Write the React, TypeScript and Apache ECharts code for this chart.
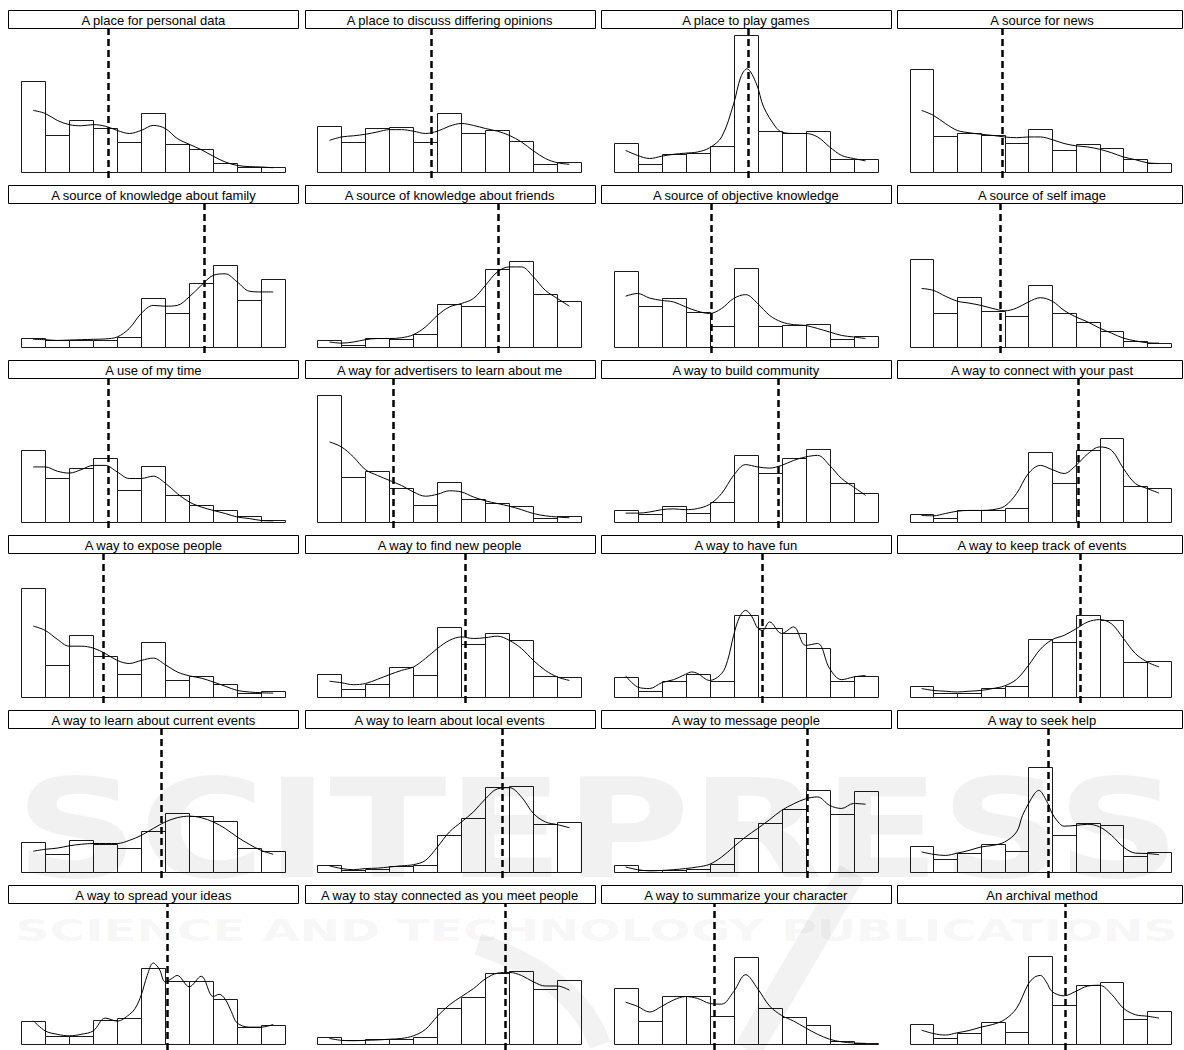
import React, { useEffect, useRef } from 'react';
import * as echarts from 'echarts';

// Panel titles
const titles: string[] = [
  'A place for personal data', 'A place to discuss differing opinions', 'A place to play games', 'A source for news',
  'A source of knowledge about family', 'A source of knowledge about friends', 'A source of objective knowledge', 'A source of self image',
  'A use of my time', 'A way for advertisers to learn about me', 'A way to build community', 'A way to connect with your past',
  'A way to expose people', 'A way to find new people', 'A way to have fun', 'A way to keep track of events',
  'A way to learn about current events', 'A way to learn about local events', 'A way to message people', 'A way to seek help',
  'A way to spread your ideas', 'A way to stay connected as you meet people', 'A way to summarize your character', 'An archival method',
];

// Ratings 0..10 (bins)
const ratings: number[] = [0, 1, 2, 3, 4, 5, 6, 7, 8, 9, 10];

// Histogram heights (percent of respondents per rating)
const bars: number[][] = [
  [23.6, 9.5, 13.4, 11.5, 7.8, 15.2, 7.4, 6.1, 2.3, 1.3, 1.3],
  [11.9, 7.8, 11.5, 11.7, 7.8, 15.4, 10.2, 11.0, 8.0, 2.2, 2.7],
  [7.5, 2.2, 4.8, 5.0, 6.7, 35.5, 10.6, 10.0, 10.6, 3.5, 3.3],
  [26.8, 9.3, 10.2, 9.5, 7.5, 11.1, 5.8, 7.4, 6.2, 3.5, 2.4],
  [2.3, 1.7, 1.9, 1.9, 2.6, 12.7, 8.9, 16.5, 21.2, 12.1, 17.6],
  [1.7, 0.6, 2.3, 2.0, 3.3, 11.1, 10.6, 20.2, 22.3, 13.7, 11.9],
  [19.7, 10.6, 12.6, 9.1, 5.5, 20.4, 5.5, 5.6, 6.1, 2.0, 2.9],
  [22.9, 8.7, 13.0, 9.3, 8.1, 16.2, 8.9, 6.5, 4.1, 1.5, 1.0],
  [18.6, 11.3, 14.1, 16.5, 8.4, 14.5, 6.9, 4.5, 3.0, 1.5, 0.4],
  [32.9, 11.7, 13.2, 8.9, 4.5, 10.4, 6.1, 4.9, 4.1, 1.1, 1.6],
  [3.2, 2.0, 4.1, 2.3, 5.2, 17.3, 12.6, 16.5, 19.0, 10.2, 7.5],
  [2.2, 1.0, 3.2, 3.0, 3.7, 18.2, 10.0, 18.7, 21.7, 9.3, 8.9],
  [28.3, 8.4, 16.0, 10.6, 6.1, 14.3, 4.5, 5.5, 3.5, 1.1, 1.5],
  [5.9, 2.2, 3.5, 7.8, 5.8, 18.2, 13.7, 16.7, 14.7, 5.5, 5.2],
  [5.2, 1.6, 4.1, 5.9, 4.1, 21.2, 18.0, 16.7, 12.7, 4.2, 5.5],
  [2.9, 1.0, 1.0, 2.4, 2.9, 15.0, 14.3, 21.2, 20.1, 9.1, 9.3],
  [7.8, 4.8, 8.2, 7.4, 6.3, 10.6, 15.4, 14.5, 13.2, 6.3, 5.4],
  [1.9, 0.4, 0.9, 1.6, 1.9, 9.7, 13.9, 22.0, 22.3, 12.4, 13.0],
  [1.7, 0.4, 0.6, 0.9, 2.2, 8.7, 12.6, 16.3, 21.2, 15.0, 21.0],
  [6.8, 3.5, 5.0, 7.4, 5.4, 27.3, 9.5, 12.8, 12.3, 4.1, 5.2],
  [6.1, 2.2, 2.2, 6.5, 6.9, 20.3, 16.6, 16.6, 11.9, 4.5, 5.0],
  [1.9, 1.0, 1.3, 1.3, 2.0, 9.7, 12.6, 18.8, 19.5, 14.5, 16.9],
  [14.9, 6.1, 12.8, 12.7, 7.4, 23.2, 9.6, 7.2, 5.1, 0.9, 0.2],
  [5.2, 1.5, 2.9, 5.9, 3.3, 23.4, 10.3, 15.7, 16.4, 6.6, 8.7],
];

// Positions at which the density curves were read (default: every half rating)
const HALF: number[] = [0, 0.5, 1, 1.5, 2, 2.5, 3, 3.5, 4, 4.5, 5, 5.5, 6, 6.5, 7, 7.5, 8, 8.5, 9, 9.5, 10];
const curveX: (number[] | null)[] = [
  null, null,
  [0, 0.5, 1, 1.5, 2, 2.5, 3, 3.5, 4, 4.5, 4.8, 5.05, 5.45, 5.75, 6.25, 6.5, 7, 7.5, 8, 8.5, 9, 9.5, 10],
  null, null, null, null, null, null, null, null, null, null, null,
  [0, 0.5, 1, 1.5, 2, 2.5, 2.75, 3, 3.5, 4, 4.25, 4.5, 4.75, 5, 5.25, 5.5, 5.7, 6, 6.5, 7, 7.5, 8, 8.5, 9, 9.5, 10],
  null, null, null, null,
  [0, 0.5, 1, 1.5, 2, 2.5, 3, 3.5, 4, 4.25, 4.5, 4.75, 4.93, 5.25, 5.5, 5.75, 6, 6.5, 7, 7.5, 8, 8.5, 9, 9.5, 10],
  [0, 0.5, 1, 1.5, 2, 2.5, 3, 3.5, 4, 4.25, 4.5, 4.75, 5, 5.25, 5.5, 5.75, 6, 6.5, 7, 7.5, 7.75, 8, 8.25, 8.5, 9, 9.5, 10],
  null, null,
  [0, 0.5, 1, 1.5, 2, 2.5, 3, 3.5, 4, 4.5, 4.75, 5, 5.25, 5.5, 6, 6.5, 7, 7.5, 8, 8.5, 9, 9.5, 10],
];

// Density curve values (percent scale)
const curveY: number[][] = [
  [16.0, 15.2, 13.4, 12.3, 12.0, 12.3, 11.9, 10.8, 10.0, 10.8, 12.1, 11.3, 8.7, 7.2, 5.8, 4.1, 2.6, 1.7, 1.4, 1.3, 1.1],
  [8.2, 9.1, 9.4, 9.8, 10.4, 11.0, 11.0, 10.6, 10.0, 10.6, 11.9, 12.6, 12.1, 11.3, 10.6, 9.5, 7.8, 5.5, 3.5, 2.4, 2.0],
  [5.6, 4.3, 3.5, 4.1, 4.6, 4.9, 5.2, 6.3, 9.1, 17.7, 24.7, 26.8, 22.9, 16.9, 11.7, 10.4, 10.0, 10.0, 9.1, 6.5, 4.3, 3.5, 2.9],
  [16.0, 14.7, 12.6, 10.8, 10.2, 9.8, 9.5, 9.1, 8.9, 9.1, 9.1, 8.4, 7.4, 6.8, 6.5, 5.9, 5.0, 3.9, 3.2, 2.4, 2.2],
  [2.0, 1.9, 1.7, 1.8, 1.9, 2.0, 2.1, 2.6, 4.8, 8.7, 10.8, 10.6, 10.8, 13.0, 16.0, 18.6, 19.0, 16.9, 14.5, 14.3, 14.3],
  [1.3, 1.0, 1.3, 1.9, 2.2, 2.2, 2.4, 3.2, 5.2, 8.2, 10.4, 11.3, 12.6, 16.0, 19.5, 20.8, 20.8, 18.2, 14.7, 12.6, 10.6],
  [13.2, 13.9, 12.7, 12.1, 11.7, 10.4, 9.3, 8.7, 10.0, 12.6, 13.6, 11.3, 8.2, 6.5, 5.8, 5.6, 4.8, 3.9, 3.0, 2.6, 2.2],
  [15.2, 14.7, 13.2, 11.9, 11.4, 10.8, 10.0, 9.4, 10.1, 11.7, 12.8, 11.9, 9.5, 7.8, 6.5, 4.9, 3.6, 2.3, 1.6, 1.1, 1.0],
  [14.3, 14.3, 13.2, 12.7, 13.6, 14.7, 14.7, 13.0, 11.3, 11.3, 11.9, 10.1, 7.4, 5.2, 3.9, 3.0, 2.2, 1.3, 0.9, 0.4, 0.3],
  [20.8, 19.5, 16.9, 13.6, 12.1, 10.8, 9.5, 7.8, 6.7, 7.2, 8.1, 7.8, 6.5, 5.5, 4.8, 4.1, 3.2, 2.2, 1.6, 1.3, 1.1],
  [2.3, 2.3, 2.6, 3.2, 3.4, 3.2, 3.5, 4.6, 7.4, 12.1, 14.9, 14.3, 14.0, 14.7, 16.0, 16.9, 17.3, 14.7, 11.3, 9.1, 6.9],
  [1.7, 1.6, 2.2, 2.8, 3.0, 3.0, 3.2, 4.1, 7.4, 12.6, 14.7, 13.6, 12.6, 14.7, 17.7, 19.5, 18.6, 13.9, 10.0, 8.7, 7.5],
  [18.4, 17.3, 15.0, 13.2, 13.2, 12.7, 11.3, 9.5, 8.7, 9.5, 10.1, 8.4, 6.5, 5.5, 4.9, 3.9, 2.8, 1.7, 1.3, 1.1, 1.0],
  [4.1, 3.7, 3.2, 3.5, 4.6, 5.8, 6.9, 7.8, 10.0, 12.6, 14.7, 15.6, 15.2, 15.4, 15.8, 14.7, 12.6, 9.5, 6.9, 5.2, 4.3],
  [5.5, 2.6, 2.2, 3.7, 4.5, 5.9, 6.5, 6.1, 4.3, 6.1, 9.5, 16.0, 20.8, 22.5, 21.0, 17.9, 17.3, 19.5, 16.5, 18.2, 13.4, 13.9, 7.4, 4.5, 5.2, 5.6],
  [2.2, 1.7, 1.5, 1.3, 1.5, 1.7, 2.2, 2.9, 4.6, 8.2, 12.4, 14.9, 16.0, 17.7, 19.5, 20.1, 19.0, 15.2, 11.3, 9.1, 7.8],
  [5.4, 5.9, 6.2, 6.8, 7.2, 7.4, 7.4, 7.4, 8.2, 9.5, 11.3, 13.0, 14.1, 14.5, 14.1, 13.0, 11.3, 9.1, 7.2, 5.6, 4.6],
  [1.6, 0.9, 0.6, 0.9, 1.0, 1.3, 1.6, 1.9, 3.0, 6.5, 10.4, 13.0, 15.6, 19.0, 21.6, 21.9, 19.5, 15.2, 13.0, 12.3, 11.5],
  [1.3, 0.6, 0.3, 0.4, 0.6, 0.9, 1.3, 2.0, 3.9, 6.5, 9.1, 11.3, 13.6, 16.0, 17.7, 19.0, 19.5, 17.3, 16.5, 17.8, 17.6],
  [5.2, 4.6, 4.3, 4.9, 5.6, 6.5, 6.9, 7.8, 10.4, 14.7, 17.7, 20.3, 21.2, 18.6, 15.2, 13.0, 11.9, 12.1, 12.4, 11.7, 9.5, 6.5, 4.9, 4.8, 4.5],
  [6.2, 3.5, 2.6, 2.2, 2.6, 3.5, 6.9, 6.1, 7.8, 9.5, 13.0, 18.2, 21.5, 19.9, 16.5, 17.3, 18.2, 15.2, 18.0, 12.6, 13.2, 11.9, 8.7, 5.6, 4.5, 4.5, 5.2],
  [1.5, 1.0, 0.9, 1.0, 1.1, 1.3, 1.5, 2.2, 3.9, 7.4, 10.4, 12.6, 14.7, 17.3, 18.8, 19.0, 18.2, 16.5, 15.4, 15.4, 14.3],
  [11.1, 10.0, 8.5, 10.0, 11.7, 12.6, 12.1, 10.8, 10.6, 13.9, 18.4, 14.7, 10.1, 7.6, 6.1, 4.3, 2.6, 1.3, 0.6, 0.3, 0.2],
  [3.7, 2.8, 2.4, 3.0, 3.6, 4.5, 5.2, 6.5, 9.5, 16.0, 17.7, 18.2, 16.5, 13.9, 12.8, 14.0, 15.4, 15.6, 13.2, 9.5, 7.8, 7.4, 6.9],
];

// Mean rating (dashed line)
const means: number[] = [
  3.14, 4.24, 5.13, 3.38,
  7.12, 7.03, 3.55, 3.33,
  3.12, 2.66, 6.35, 6.59,
  2.90, 5.67, 5.71, 6.70,
  5.32, 7.20, 7.58, 5.35,
  5.59, 7.31, 3.71, 6.07,
];

const COL_LEFT = 8.4;
const COL_PITCH = 296.2;
const ROW_TOP = 10;
const ROW_PITCH = 175;
const STRIP_H = 18.5;
const PANEL_W = 290;
const PLOT_H = 149.5;

export default function App() {
  const ref = useRef<HTMLDivElement>(null);
  useEffect(() => {
    document.body.style.margin = '0';
    const chart = echarts.init(ref.current as HTMLDivElement, null, { renderer: 'svg' });

    const grids: any[] = [];
    const xAxes: any[] = [];
    const yAxes: any[] = [];
    const series: any[] = [];
    const graphics: any[] = [];

    const renderBar = (params: any, api: any) => {
      const i = api.value(0) as number;
      const v = api.value(1) as number;
      const a = api.coord([i - 0.5, 0]);
      const b = api.coord([i + 0.5, v]);
      const x0 = Math.round(a[0]) + 0.5;
      const x1 = Math.round(b[0]) + 0.5;
      const y0 = Math.round(a[1]) + 0.5;
      const y1 = Math.round(b[1]) + 0.5;
      return {
        type: 'rect',
        shape: { x: x0, y: y1, width: x1 - x0, height: y0 - y1 },
        style: { fill: '#ffffff', stroke: '#1a1a1a', lineWidth: 1 },
      };
    };

    titles.forEach((title, k) => {
      const r = Math.floor(k / 4);
      const c = k % 4;
      const left = COL_LEFT + c * COL_PITCH;
      const top = ROW_TOP + r * ROW_PITCH;
      grids.push({ left, top: top + STRIP_H, width: PANEL_W, height: PLOT_H, containLabel: false });
      xAxes.push({ type: 'value', gridIndex: k, min: -1.035, max: 11.05, show: false });
      yAxes.push({ type: 'value', gridIndex: k, min: -1.56, max: 37.27, show: false });
      series.push({
        type: 'custom',
        xAxisIndex: k,
        yAxisIndex: k,
        silent: true,
        z: 2,
        renderItem: renderBar,
        data: ratings.map((rt, i) => [rt, bars[k][i]]),
      });
      const xs = curveX[k] || HALF;
      series.push({
        type: 'line',
        xAxisIndex: k,
        yAxisIndex: k,
        silent: true,
        z: 3,
        smooth: 0.35,
        symbol: 'none',
        showSymbol: false,
        lineStyle: { color: '#000', width: 1 },
        data: xs.map((x, j) => [x, curveY[k][j]]),
        markLine: {
          silent: true,
          symbol: ['none', 'none'],
          label: { show: false },
          lineStyle: { color: '#000', width: 2.5, type: [7, 4] },
          data: [{ xAxis: means[k] }],
        },
      });
      const sx = Math.round(left) + 0.5;
      const sy = Math.round(top) + 0.5;
      const sw = c === 3 ? Math.min(PANEL_W, 1182.5 - sx) : PANEL_W;
      graphics.push({
        type: 'rect',
        silent: true,
        z: 5,
        shape: { x: sx, y: sy, width: sw, height: 18 },
        style: { fill: '#ffffff', stroke: '#000', lineWidth: 1 },
      });
      graphics.push({
        type: 'text',
        silent: true,
        z: 6,
        x: left + PANEL_W / 2,
        y: sy + 9.5,
        style: {
          text: title,
          fill: '#000',
          fontSize: 13,
          fontFamily: '"Liberation Sans", Arial, sans-serif',
          align: 'center',
          verticalAlign: 'middle',
        },
      });
    });

    // watermark
    const measure = (txt: string, font: string) => {
      const cv = document.createElement('canvas');
      const ctx = cv.getContext('2d') as CanvasRenderingContext2D;
      ctx.font = font;
      return ctx.measureText(txt).width || 1;
    };
    const wm1 = 'SCITEPRESS';
    const wm2 = 'SCIENCE AND TECHNOLOGY PUBLICATIONS';
    const w1 = measure(wm1, 'bold 137px "DejaVu Sans"');
    const w2 = measure(wm2, 'bold 30px "DejaVu Sans"');
    const wmFill = 'rgba(0,0,0,0.055)';
    graphics.push({
      type: 'text',
      silent: true,
      z: 100,
      x: 15,
      y: 830,
      scaleX: 1165 / w1,
      style: {
        text: wm1,
        fill: wmFill,
        fontSize: 137,
        fontWeight: 'bold',
        fontFamily: '"DejaVu Sans"',
        align: 'left',
        verticalAlign: 'middle',
      },
    });
    graphics.push({
      type: 'text',
      silent: true,
      z: 100,
      x: 15,
      y: 931,
      scaleX: 1163 / w2,
      style: {
        text: wm2,
        fill: wmFill,
        fontSize: 30,
        fontWeight: 'bold',
        fontFamily: '"DejaVu Sans"',
        align: 'left',
        verticalAlign: 'middle',
      },
    });
    // logo strokes of the watermark
    graphics.push({
      type: 'bezierCurve',
      silent: true,
      z: 100,
      shape: { x1: 478, y1: 944, cpx1: 540, cpy1: 965, x2: 600, y2: 1045, cpx2: 585, cpy2: 1000 },
      style: { stroke: 'rgba(0,0,0,0.05)', lineWidth: 22, fill: 'none' },
    });
    graphics.push({
      type: 'line',
      silent: true,
      z: 100,
      shape: { x1: 852, y1: 872, x2: 748, y2: 1050 },
      style: { stroke: 'rgba(0,0,0,0.05)', lineWidth: 28 },
    });

    chart.setOption({
      animation: false,
      backgroundColor: '#ffffff',
      grid: grids,
      xAxis: xAxes,
      yAxis: yAxes,
      series,
      graphic: graphics,
    });
    return () => chart.dispose();
  }, []);
  return <div ref={ref} style={{ width: 1184, height: 1050 }} />;
}
